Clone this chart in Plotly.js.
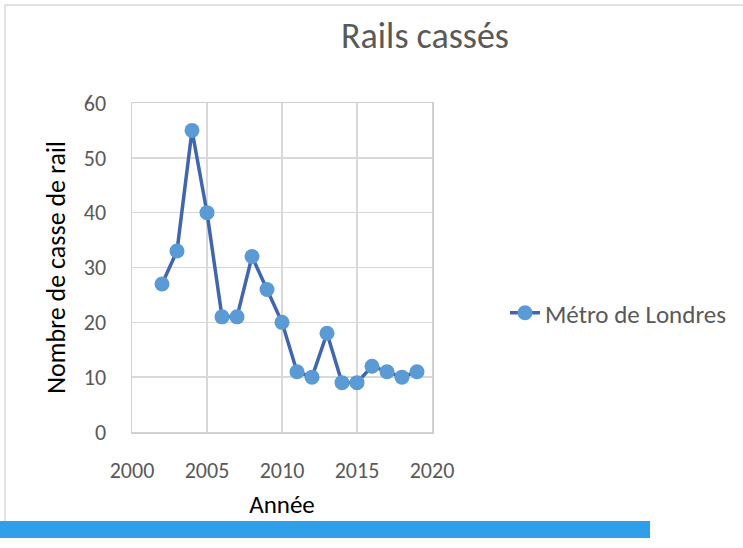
<!DOCTYPE html>
<html><head><meta charset="utf-8">
<script src="https://cdn.plot.ly/plotly-3.0.1.min.js"></script>
<style>html,body{margin:0;padding:0;background:#fff;}#chart{width:743px;height:548px;}</style>
</head><body><div id="chart"></div>
<script>
const years = [2002,2003,2004,2005,2006,2007,2008,2009,2010,2011,2012,2013,2014,2015,2016,2017,2018,2019];
const breaks = [27,33,55,40,21,21,32,26,20,11,10,18,9,9,12,11,10,11];
const seriesName = 'Métro de Londres';
const titleText = 'Rails cassés';
const xTitle = 'Année';
const yTitle = 'Nombre de casse de rail';

const font = 'Carlito, Calibri, "Open Sans", "Liberation Sans", sans-serif';
const trace = {
  x: years, y: breaks, name: seriesName, type: 'scatter', mode: 'lines+markers',
  line: {color: '#3F66AE', width: 3.5},
  marker: {color: '#5B9BD5', size: 15},
  showlegend: true
};
function px2x(p){return (p-132)/300;}
function py2y(p){return (432-p)/329;}
const layout = {
  width: 743, height: 548,
  margin: {l: 132, r: 311, t: 103, b: 116},
  paper_bgcolor: '#fff', plot_bgcolor: '#fff',
  font: {family: font, color: '#595959', size: 22},
  title: {text: titleText, x: 0.572, xanchor: 'center', y: 0.935, yanchor: 'middle', font: {size: 36, color: '#595959', family: font}},
  xaxis: {range: [2000, 2020], dtick: 5, tick0: 2000, showgrid: true, gridcolor: '#D9D9D9', gridwidth: 1.5,
    showline: true, linecolor: '#D0D0D0', linewidth: 1.5, mirror: true, zeroline: false,
    ticks: '', ticklabelstandoff: 18, tickfont: {size: 22, color: '#595959'},
    title: {text: xTitle, font: {size: 25, color: '#000'}, standoff: 12}},
  yaxis: {range: [0, 60], dtick: 10, showgrid: true, gridcolor: '#D9D9D9', gridwidth: 1.5,
    showline: true, linecolor: '#D0D0D0', linewidth: 1.5, mirror: true, zeroline: false,
    ticks: '', ticklabelstandoff: 20, tickfont: {size: 22, color: '#595959'},
    title: {text: yTitle, font: {size: 26, color: '#000'}, standoff: 10}},
  legend: {x: px2x(505), xanchor: 'left', y: py2y(313), yanchor: 'middle', font: {size: 25, color: '#595959'}, bgcolor: 'rgba(0,0,0,0)'},
  shapes: [
    {type: 'rect', xref: 'paper', yref: 'paper', x0: px2x(0), x1: px2x(650), y0: py2y(521), y1: py2y(538), fillcolor: '#2F9FEA', line: {width: 0}},
    {type: 'line', xref: 'paper', yref: 'paper', x0: px2x(5), x1: px2x(743), y0: py2y(5), y1: py2y(5), line: {color: '#D9D9D9', width: 1.5}},
    {type: 'line', xref: 'paper', yref: 'paper', x0: px2x(5), x1: px2x(5), y0: py2y(5), y1: py2y(521), line: {color: '#D9D9D9', width: 1.5}}
  ]
};
Plotly.newPlot('chart', [trace], layout, {displayModeBar: false, staticPlot: true});
</script></body></html>
